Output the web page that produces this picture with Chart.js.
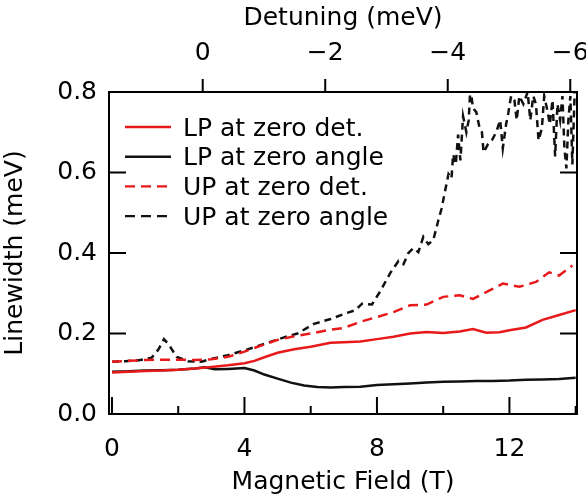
<!DOCTYPE html>
<html lang="en">
<head>
   <meta charset="UTF-8">
   <title>Linewidth vs Magnetic Field</title>
   <script src="https://cdn.jsdelivr.net/npm/chart.js"></script>
   <style>
      body { margin: 0; background: #fff; }
      .wrap { width: 586px; height: 500px; }
   </style>
</head>
<body>
   <div class="wrap"><canvas id="lwChart"></canvas></div>

   <script>
      // tick labels
      const fieldTicks = [0, 4, 8, 12];
      const fieldMinor = [2, 6, 10, 14];
      const detTicks = [0, -2, -4, -6];
      const widthTicks = [0, 0.2, 0.4, 0.6, 0.8];

      // LP at zero det. (red solid)
      const lpDetB = [0, 0.5, 1, 1.5, 2, 2.5, 3, 3.5, 4, 4.3, 4.6, 5, 5.5, 6, 6.6, 7, 7.5, 8, 8.5, 9, 9.5, 10, 10.5, 10.9, 11.3, 11.7, 12, 12.5, 13, 13.5, 14];
      const lpDetW = [0.103, 0.105, 0.107, 0.108, 0.110, 0.113, 0.117, 0.121, 0.126, 0.132, 0.141, 0.152, 0.161, 0.167, 0.177, 0.178, 0.180, 0.186, 0.192, 0.200, 0.204, 0.201, 0.205, 0.211, 0.202, 0.203, 0.208, 0.215, 0.234, 0.246, 0.258];

      // LP at zero angle (black solid)
      const lpAngB = [0, 0.5, 1, 1.5, 2, 2.5, 2.8, 3.1, 3.5, 4, 4.3, 4.6, 5, 5.4, 5.8, 6.2, 6.6, 7, 7.5, 8, 8.5, 9, 9.5, 10, 10.5, 11, 11.5, 12, 12.5, 13, 13.5, 14];
      const lpAngW = [0.105, 0.106, 0.108, 0.109, 0.110, 0.113, 0.116, 0.111, 0.112, 0.114, 0.108, 0.098, 0.088, 0.078, 0.071, 0.067, 0.066, 0.067, 0.068, 0.072, 0.074, 0.076, 0.078, 0.080, 0.081, 0.082, 0.082, 0.083, 0.085, 0.086, 0.087, 0.090];

      // UP at zero det. (red dashed)
      const upDetB = [0, 0.5, 1, 1.5, 2, 2.5, 3, 3.5, 4, 4.5, 5, 5.5, 6, 6.5, 7, 7.5, 8, 8.5, 9, 9.5, 10, 10.5, 10.9, 11.4, 11.8, 12.3, 12.8, 13.2, 13.5, 13.9];
      const upDetW = [0.130, 0.132, 0.134, 0.135, 0.135, 0.134, 0.136, 0.142, 0.155, 0.170, 0.184, 0.193, 0.200, 0.208, 0.214, 0.229, 0.241, 0.253, 0.270, 0.272, 0.291, 0.295, 0.286, 0.307, 0.324, 0.316, 0.328, 0.352, 0.344, 0.369];

      // UP at zero angle (black dashed)
      const upAngB = [0, 0.4, 0.85, 1.2, 1.4, 1.57, 1.72, 1.95, 2.3, 2.7, 3.06, 3.5, 4.07, 4.6, 5.1, 5.6, 6.1, 6.6, 7.05, 7.35, 7.55, 7.85, 8.1, 8.4, 8.65, 8.8, 8.95, 9.1, 9.25, 9.4, 9.55, 9.7, 9.85, 9.95, 10.06, 10.16, 10.25, 10.3, 10.38, 10.45, 10.52, 10.6, 10.7, 10.77, 10.82, 10.9, 11, 11.1, 11.17, 11.22, 11.35, 11.47, 11.6, 11.72, 11.8, 11.9, 11.97, 12.05, 12.15, 12.22, 12.3, 12.42, 12.55, 12.63, 12.72, 12.8, 12.88, 12.98, 13.05, 13.13, 13.22, 13.3, 13.38, 13.45, 13.53, 13.6, 13.66, 13.72, 13.78, 13.84, 13.9, 13.97];
      const upAngW = [0.130, 0.131, 0.134, 0.140, 0.160, 0.186, 0.172, 0.142, 0.131, 0.130, 0.138, 0.146, 0.160, 0.174, 0.188, 0.200, 0.224, 0.236, 0.250, 0.258, 0.274, 0.272, 0.305, 0.350, 0.380, 0.372, 0.400, 0.412, 0.402, 0.440, 0.422, 0.432, 0.480, 0.510, 0.555, 0.596, 0.585, 0.645, 0.620, 0.694, 0.630, 0.740, 0.700, 0.730, 0.810, 0.760, 0.750, 0.710, 0.700, 0.650, 0.670, 0.680, 0.700, 0.730, 0.660, 0.720, 0.750, 0.790, 0.780, 0.730, 0.790, 0.770, 0.800, 0.730, 0.790, 0.770, 0.680, 0.710, 0.790, 0.760, 0.720, 0.780, 0.640, 0.770, 0.730, 0.790, 0.660, 0.610, 0.730, 0.790, 0.620, 0.800];

      const RED = '#e8191b';
      const BLACK = '#111';
      const FONT = 'DejaVu Sans';

      const pts = (b, w) => b.map((v, i) => ({ x: v, y: w[i] }));
      const fmtDet = v => v === 0 ? '0' : '\u2212' + Math.abs(v);

      const series = [
         { label: 'LP at zero det.', data: pts(lpDetB, lpDetW), color: RED, dash: [] },
         { label: 'LP at zero angle', data: pts(lpAngB, lpAngW), color: BLACK, dash: [] },
         { label: 'UP at zero det.', data: pts(upDetB, upDetW), color: RED, dash: [10, 6] },
         { label: 'UP at zero angle', data: pts(upAngB, upAngW), color: BLACK, dash: [7, 5] }
      ];

      // frame, inward ticks, top ticks and in-plot legend
      const framePlugin = {
         id: 'frame',
         afterDatasetsDraw(chart) {
            const { ctx, chartArea: a, scales } = chart;
            const x = scales.x, y = scales.y, x2 = scales.x2;
            ctx.save();
            ctx.strokeStyle = '#000';
            ctx.lineWidth = 2;
            ctx.setLineDash([]);
            ctx.strokeRect(a.left, a.top, a.right - a.left, a.bottom - a.top);
            ctx.beginPath();
            fieldTicks.forEach(v => {
               const p = x.getPixelForValue(v);
               ctx.moveTo(p, a.bottom); ctx.lineTo(p, a.bottom - 17);
            });
            fieldMinor.forEach(v => {
               const p = x.getPixelForValue(v);
               ctx.moveTo(p, a.bottom); ctx.lineTo(p, a.bottom - 8);
            });
            widthTicks.forEach(v => {
               const p = y.getPixelForValue(v);
               ctx.moveTo(a.left, p); ctx.lineTo(a.left + 17, p);
               ctx.moveTo(a.right, p); ctx.lineTo(a.right - 17, p);
            });
            detTicks.forEach(v => {
               const p = x2.getPixelForValue(v);
               ctx.moveTo(p, a.top); ctx.lineTo(p, a.top - 13);
            });
            ctx.stroke();

            // legend
            ctx.font = '25px "' + FONT + '"';
            ctx.textBaseline = 'middle';
            ctx.fillStyle = '#000';
            ctx.lineWidth = 2.4;
            series.forEach((s, i) => {
               const ly = 127 + i * 29.7;
               ctx.beginPath();
               ctx.strokeStyle = s.color;
               ctx.setLineDash(s.dash.length ? [10, 6] : []);
               ctx.moveTo(125, ly); ctx.lineTo(171, ly);
               ctx.stroke();
               ctx.fillText(s.label, 183, ly + 2);
            });
            ctx.restore();
         }
      };

      const noPadX = s => { s.paddingLeft = 0; s.paddingRight = 0; };

      new Chart(document.getElementById('lwChart'), {
         type: 'line',
         data: {
            datasets: series.map(s => ({
               label: s.label,
               data: s.data,
               borderColor: s.color,
               borderDash: s.dash,
               borderWidth: 2.5,
               pointRadius: 0,
               tension: 0,
               fill: false
            }))
         },
         options: {
            responsive: true,
            maintainAspectRatio: false,
            animation: false,
            layout: { padding: { left: 0, right: 9, top: 0, bottom: 0 } },
            plugins: { legend: { display: false }, tooltip: { enabled: false } },
            scales: {
               x: {
                  type: 'linear',
                  position: 'bottom',
                  min: -0.09,
                  max: 14.04,
                  afterBuildTicks: s => { s.ticks = fieldTicks.map(v => ({ value: v })); },
                  afterFit: s => { s.height = 86; noPadX(s); },
                  grid: { display: false, drawTicks: false },
                  border: { display: false },
                  ticks: { padding: 20, color: '#000', maxRotation: 0, font: { family: FONT, size: 25 } },
                  title: { display: true, text: 'Magnetic Field (T)', color: '#000', padding: { top: 0, bottom: 3 }, font: { family: FONT, size: 25 } }
               },
               x2: {
                  type: 'linear',
                  position: 'top',
                  min: -6.11,
                  max: 1.53,
                  reverse: true,
                  afterBuildTicks: s => { s.ticks = detTicks.map(v => ({ value: v })); },
                  afterFit: s => { s.height = 92; noPadX(s); },
                  grid: { display: false, drawTicks: false },
                  border: { display: false },
                  ticks: { padding: 24, color: '#000', maxRotation: 0, font: { family: FONT, size: 25 }, callback: v => fmtDet(v) },
                  title: { display: true, text: 'Detuning (meV)', color: '#000', padding: { top: 3, bottom: 0 }, font: { family: FONT, size: 25 } }
               },
               y: {
                  type: 'linear',
                  min: 0,
                  max: 0.8,
                  afterBuildTicks: s => { s.ticks = widthTicks.map(v => ({ value: v })); },
                  afterFit: s => { s.width = 109; s.paddingTop = 0; s.paddingBottom = 0; },
                  grid: { display: false, drawTicks: false },
                  border: { display: false },
                  ticks: { padding: 12, color: '#000', font: { family: FONT, size: 25 }, callback: v => v.toFixed(1) },
                  title: { display: true, text: 'Linewidth (meV)', color: '#000', padding: { top: 0, bottom: 6 }, font: { family: FONT, size: 25 } }
               }
            }
         },
         plugins: [framePlugin]
      });
   </script>
</body>
</html>
